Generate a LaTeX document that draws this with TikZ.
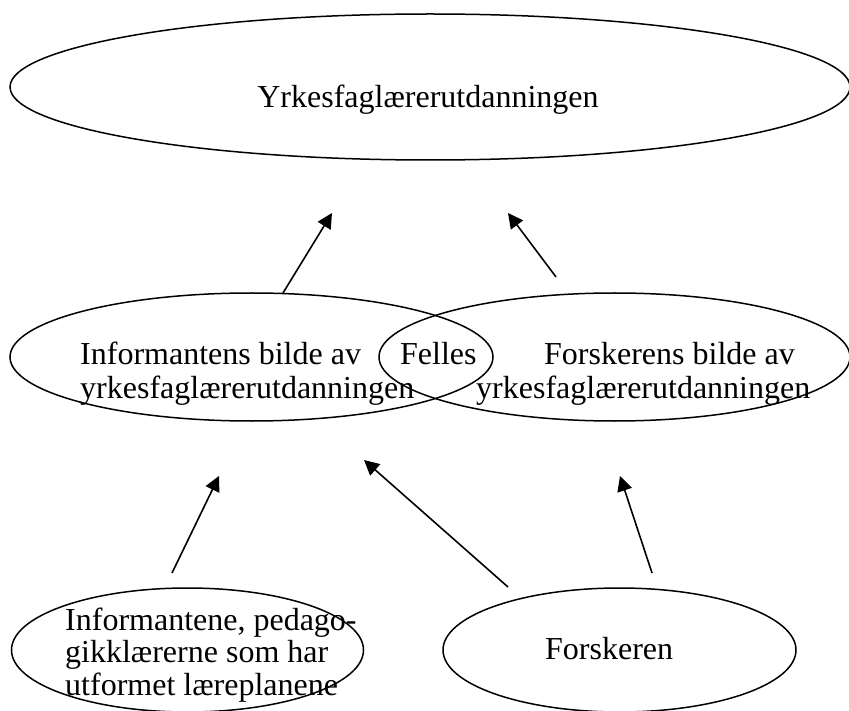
\documentclass[tikz,border=0pt]{standalone}
\usepackage{fontspec}
\setmainfont{Liberation Serif}
\usetikzlibrary{shapes.geometric,arrows.meta}
\begin{document}
\begin{tikzpicture}[x=1pt,y=-1pt,
  oval/.style={ellipse,draw,line width=1.5pt,inner sep=0pt},
  txt/.style={anchor=base west,inner sep=0pt,font=\fontsize{32}{33}\selectfont},
  link/.style={-{Triangle[length=15pt,width=15pt]},line width=1.6pt}]
\useasboundingbox (0,0) rectangle (849,711);

% ellipses
\node[oval,minimum width=840pt,minimum height=146pt] (top) at (430,87) {};
\node[oval,minimum width=483pt,minimum height=128pt] (infimg) at (251.5,357) {};
\node[oval,minimum width=471pt,minimum height=128pt] (forimg) at (614.5,357) {};
\node[oval,minimum width=352pt,minimum height=124pt] (inf) at (187.5,650) {};
\node[oval,minimum width=353pt,minimum height=124pt] (for) at (619.5,650) {};

% labels
\node[txt,anchor=base] (toplbl) at (428,108) {Yrkesfaglærerutdanningen};
\node[txt] (infimg1) at (80,365) {Informantens bilde av};
\node[txt] (infimg2) at (80,398) {yrkesfaglærerutdanningen};
\node[txt] (felles) at (400,365) {Felles};
\node[txt] (forimg1) at (544,365) {Forskerens bilde av};
\node[txt] (forimg2) at (476,399) {yrkesfaglærerutdanningen};
\node[txt] (inf1) at (65,630) {Informantene, pedago-};
\node[txt] (inf2) at (65,662) {gikklærerne som har};
\node[txt] (inf3) at (65,695) {utformet læreplanene};
\node[txt] (forlbl) at (545,659) {Forskeren};

% arrow end points
\coordinate (a1s) at (283,293); \coordinate (a1e) at (332,213);
\coordinate (a2s) at (556,277); \coordinate (a2e) at (508,213);
\coordinate (a3s) at (172,573); \coordinate (a3e) at (219,476);
\coordinate (a4s) at (508,587); \coordinate (a4e) at (364,460);
\coordinate (a5s) at (652,573); \coordinate (a5e) at (620,476);

\draw[link] (a1s) -- (a1e);
\draw[link] (a2s) -- (a2e);
\draw[link] (a3s) -- (a3e);
\draw[link] (a4s) -- (a4e);
\draw[link] (a5s) -- (a5e);
\end{tikzpicture}
\end{document}
